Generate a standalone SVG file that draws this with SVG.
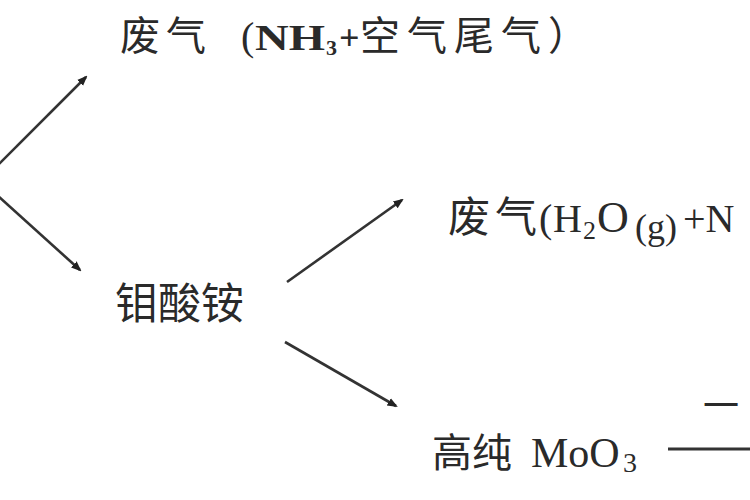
<svg xmlns="http://www.w3.org/2000/svg" width="750" height="500" viewBox="0 0 750 500">
<style>
.t{font-family:"Liberation Serif","Noto Sans CJK SC",serif;fill:#2a2a2a;}
.c{stroke:#333;stroke-width:2.6;fill:none;marker-end:url(#ah);}
</style>
<defs>
<marker id="ah" viewBox="0 0 10 10" refX="8" refY="5" markerWidth="4" markerHeight="4" orient="auto" markerUnits="strokeWidth">
<path d="M0,1 L10,5 L0,9 Z" fill="#222"/>
</marker>
</defs>
<rect width="750" height="500" fill="#fff"/>
<g id="connectors">
<line class="c" x1="-2" y1="165" x2="86" y2="77"/>
<line class="c" x1="-2" y1="196" x2="80" y2="270"/>
<line class="c" x1="287" y1="282" x2="402" y2="200"/>
<line class="c" x1="285" y1="342" x2="396" y2="406"/>
<line x1="668" y1="449" x2="752" y2="449" stroke="#333" stroke-width="3"/>
</g>
<g id="node-waste1">
<text class="t" y="50" font-size="40"><tspan x="120">废</tspan><tspan x="166">气</tspan><tspan x="241">(</tspan><tspan x="255" font-size="36" font-weight="bold" textLength="70" lengthAdjust="spacingAndGlyphs">NH</tspan><tspan x="326" font-size="22" font-weight="bold" dy="5">3</tspan><tspan x="339" font-size="36" font-weight="bold" dy="-5">+</tspan><tspan x="360" letter-spacing="7">空气尾气）</tspan></text>
</g>
<g id="node-ammonium">
<text class="t" x="115" y="319" font-size="43">钼酸铵</text>
</g>
<g id="node-waste2">
<text class="t" y="232" font-size="42"><tspan x="448">废</tspan><tspan x="495">气</tspan><tspan x="539" font-size="40">(</tspan><tspan x="553" font-size="40">H</tspan><tspan x="583" font-size="26" dy="7">2</tspan><tspan x="597" font-size="44" dy="-7">O</tspan><tspan x="635" font-size="36" dy="7">(g)</tspan><tspan x="683" font-size="40" dy="-7">+N</tspan></text>
</g>
<g id="node-moo3">
<text class="t" y="467" font-size="40"><tspan x="432">高纯</tspan><tspan x="531" font-size="42">MoO</tspan><tspan x="623" font-size="28" dy="5">3</tspan></text>
</g>
<g id="label-condition">
<text class="t" x="703" y="419" font-size="36" fill="#555">一</text>
</g>
</svg>
